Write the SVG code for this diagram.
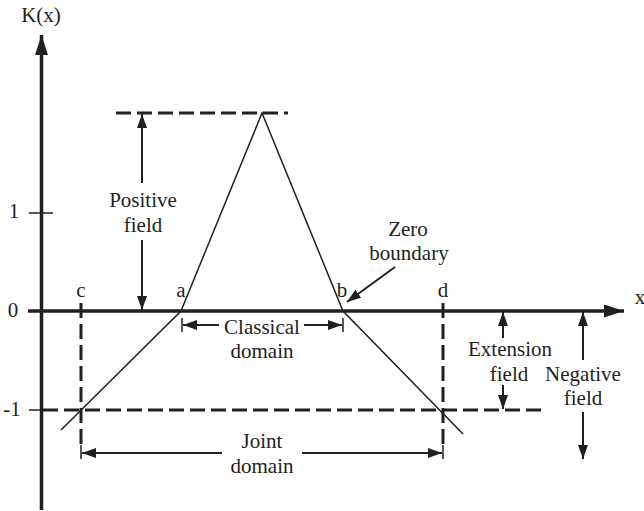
<svg xmlns="http://www.w3.org/2000/svg" width="644" height="511" viewBox="0 0 644 511">
<style>
text{font-family:'Liberation Serif','Tinos','DejaVu Serif','Noto Serif',serif;font-size:21px;fill:#231f20;text-anchor:middle}
.ax{stroke:#231f20;stroke-width:3.5;fill:none}
.ds{stroke:#231f20;stroke-width:3;stroke-dasharray:15 6;fill:none}
.th{stroke:#231f20;stroke-width:1.5;fill:none}
.ar{stroke:#231f20;stroke-width:2;fill:none;marker-end:url(#ah)}
</style>
<defs>
<marker id="ah" markerUnits="userSpaceOnUse" markerWidth="14" markerHeight="10" refX="14" refY="5" orient="auto"><path d="M0,0 L14,5 L0,10 z" fill="#231f20"/></marker>
<marker id="axh" markerUnits="userSpaceOnUse" markerWidth="20" markerHeight="13" refX="20" refY="6.5" orient="auto"><path d="M0,0 L20,6.5 L0,13 z" fill="#231f20"/></marker>
</defs>
<g id="axes" font-family="Liberation Serif, serif">
<line class="ax" x1="41.5" y1="510" x2="41.5" y2="35" marker-end="url(#axh)"/>
<line class="ax" x1="28" y1="311" x2="624" y2="311" marker-end="url(#axh)"/>
<line class="th" x1="29" y1="213" x2="53" y2="213"/>
<line class="th" x1="29" y1="410" x2="42" y2="410"/>
<text x="41" y="22">K(x)</text>
<text x="640" y="304">x</text>
<text x="14" y="218">1</text>
<text x="13" y="317">0</text>
<text x="12" y="416">-1</text>
</g>
<g id="guides">
<line class="ds" x1="116" y1="113" x2="288" y2="113"/>
<line class="ds" x1="43" y1="410" x2="545" y2="410"/>
<line class="ds" x1="81" y1="303" x2="81" y2="446"/>
<line class="ds" x1="443" y1="303" x2="443" y2="446"/>
</g>
<g id="curve">
<polyline class="th" points="61,430 181,311 262,113 343,311 463,434"/>
</g>
<g id="labels">
<text x="81" y="297">c</text>
<text x="181" y="297">a</text>
<text x="342" y="297">b</text>
<text x="443" y="297">d</text>
</g>
<g id="positive-field">
<text x="143" y="207">Positive</text>
<text x="143" y="232">field</text>
</g>
<g id="zero-boundary">
<text x="408" y="236">Zero</text>
<text x="409" y="260">boundary</text>
</g>
<g id="classical-domain">
<text x="262" y="334">Classical</text>
<text x="262" y="358">domain</text>
</g>
<g id="extension-field">
<text x="510" y="356">Extension</text>
<text x="509" y="381">field</text>
</g>
<g id="negative-field">
<text x="583" y="381">Negative</text>
<text x="583" y="405">field</text>
</g>
<g id="joint-domain">
<text x="262" y="448">Joint</text>
<text x="262" y="473">domain</text>
</g>
<g id="connectors">
<line class="ar" x1="142" y1="183" x2="142" y2="114"/>
<line class="ar" x1="142" y1="240" x2="142" y2="310"/>
<line class="ar" x1="219" y1="325" x2="183" y2="325"/>
<line class="ar" x1="304" y1="325" x2="342" y2="325"/>
<line class="th" x1="182" y1="318" x2="182" y2="332"/>
<line class="th" x1="343" y1="318" x2="343" y2="332"/>
<line class="ar" x1="395" y1="267" x2="347" y2="302"/>
<line class="ar" x1="503" y1="338" x2="503" y2="312"/>
<line class="ar" x1="503" y1="385" x2="503" y2="409"/>
<line class="ar" x1="583" y1="360" x2="583" y2="312"/>
<line class="ar" x1="583" y1="412" x2="583" y2="459"/>
<line class="ar" x1="222" y1="453" x2="82" y2="453"/>
<line class="ar" x1="302" y1="453" x2="442" y2="453"/>
<line class="th" x1="81" y1="445" x2="81" y2="459"/>
<line class="th" x1="443" y1="445" x2="443" y2="459"/>
</g>
</svg>
